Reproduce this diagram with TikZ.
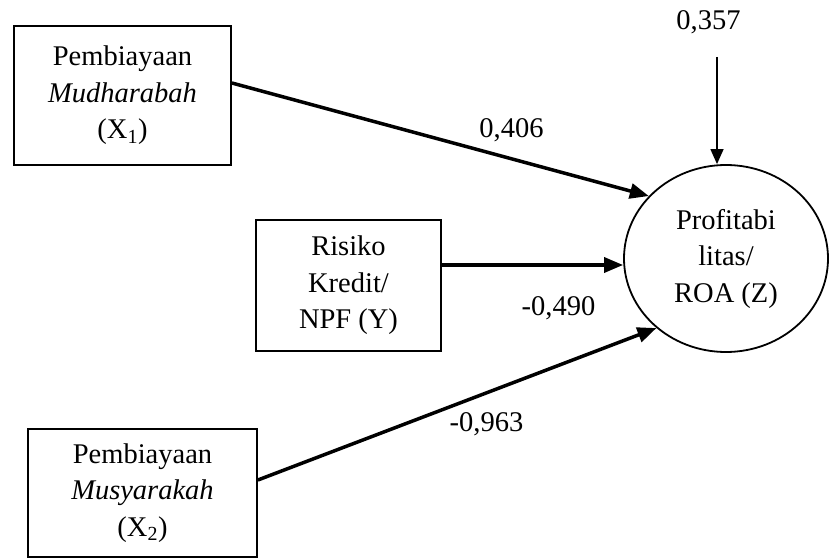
\documentclass[tikz,border=0pt]{standalone}
\usepackage{fontspec}
\setmainfont{Liberation Serif}
\usetikzlibrary{arrows.meta,shapes.geometric}

\begin{document}
\begin{tikzpicture}[x=1pt,y=-1pt,
  every node/.style={font=\fontsize{28.5}{36.5}\selectfont},
  varbox/.style={draw,line width=1.8pt,rectangle,align=center,inner sep=0pt},
  latent/.style={draw,line width=1.8pt,ellipse,align=center,inner sep=0pt},
  path/.style={line width=3.5pt,-{Triangle[length=19pt,width=15pt]}},
  residual/.style={line width=1.3pt,-{Triangle[length=15pt,width=13pt]}},
  coef/.style={anchor=base,inner sep=0pt}]
  \useasboundingbox (0,0) rectangle (830,559);

  % exogenous and mediating variables
  \node[varbox,minimum width=217,minimum height=139] (x1) at (122.5,95.5)
    {Pembiayaan\\\textit{Mudharabah}\\(X\textsubscript{1})};
  \node[varbox,minimum width=185,minimum height=131] (ry) at (348.5,285.5)
    {Risiko\\Kredit/\\NPF (Y)};
  \node[varbox,minimum width=229,minimum height=128] (x2) at (142.5,493)
    {Pembiayaan\\\textit{Musyarakah}\\(X\textsubscript{2})};

  % dependent variable
  \node[latent,minimum width=204,minimum height=187] (z) at (726,258.5)
    {Profitabi\\litas/\\ROA (Z)};

  % path arrows
  \coordinate (x1s) at ([yshift=12.5pt]x1.east);
  \coordinate (rys) at ([yshift=20.5pt]ry.east);
  \coordinate (x2s) at ([yshift=13pt]x2.east);
  \draw[path] (x1s) -- (z.141.6);
  \draw[path] (rys) -- (rys -| z.west);
  \draw[path] (x2s) -- (z.225.6);

  % error term
  \coordinate (es) at (717,57);
  \draw[residual] (es) -- (es |- z.north);

  % coefficients
  \node[coef] (ce) at (708.5,30) {0,357};
  \node[coef] (c1) at (511.5,138) {0,406};
  \node[coef] (cy) at (558.5,315) {-0,490};
  \node[coef] (c2) at (486.5,431) {-0,963};
\end{tikzpicture}
\end{document}
